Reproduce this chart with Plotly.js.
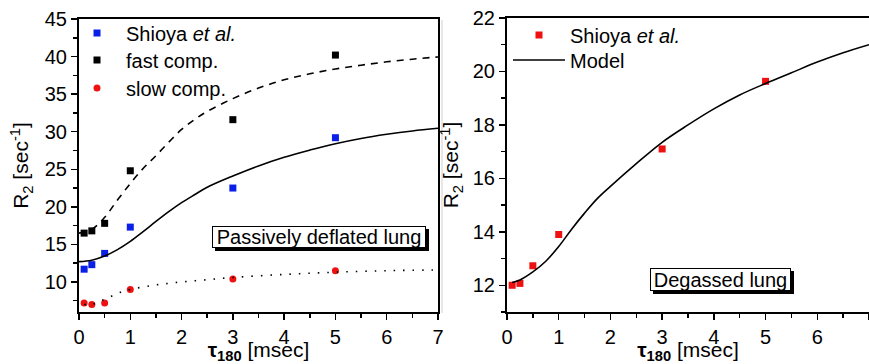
<!DOCTYPE html>
<html><head><meta charset="utf-8">
<script src="https://cdn.plot.ly/plotly-3.0.1.min.js"></script>
<style>html,body{margin:0;padding:0;background:#fff}</style>
</head><body><div id="chart" style="width:869px;height:364px"></div>
<script>
// ---- Left panel: passively deflated lung ----
const tauData = [0.1, 0.25, 0.5, 1, 3, 5];
const shioyaLeft = [11.7, 12.3, 13.8, 17.3, 22.5, 29.2];
const fastComp = [16.5, 16.8, 17.8, 24.8, 31.6, 40.2];
const slowComp = [7.2, 7.0, 7.2, 9.0, 10.4, 11.5];

const curveX = [0, 0.25, 0.5, 0.75, 1, 1.25, 1.5, 1.75, 2, 2.25, 2.5, 3, 3.5, 4, 4.5, 5, 5.5, 6, 6.5, 7];
const modelLeft = [12.7, 12.9, 13.45, 14.3, 15.4, 16.7, 18.05, 19.35, 20.55, 21.6, 22.6, 24.1, 25.45, 26.6, 27.55, 28.4, 29.1, 29.65, 30.1, 30.45];
const fastCurve = [16.5, 17.0, 18.6, 20.9, 23.1, 25.1, 26.8, 28.6, 30.3, 31.6, 32.7, 34.4, 35.8, 36.9, 37.7, 38.35, 38.85, 39.3, 39.65, 39.95];
const slowCurveX = [0.1, 0.25, 0.4, 0.6, 0.8, 1, 1.5, 2, 2.5, 3, 4, 5, 6, 7];
const slowCurve = [7.0, 7.0, 7.4, 8.0, 8.6, 9.0, 9.6, 10.0, 10.3, 10.6, 11.0, 11.3, 11.5, 11.6];

// ---- Right panel: degassed lung ----
const shioyaRight = [12.0, 12.07, 12.73, 13.9, 17.1, 19.63];
const modelRightX = [0.1, 0.25, 0.5, 0.75, 1, 1.25, 1.5, 1.75, 2, 2.5, 3, 3.5, 4, 4.5, 5, 5.5, 6, 6.5, 7];
const modelRight = [12.1, 12.2, 12.5, 12.9, 13.45, 14.1, 14.7, 15.25, 15.7, 16.55, 17.35, 18.0, 18.6, 19.12, 19.55, 19.95, 20.35, 20.7, 21.0];

const FONT = 'Arial, "Liberation Sans", sans-serif';
const LFONT = {family: FONT, size: 20, color: '#000'};

const traces = [
  {x: tauData, y: shioyaLeft, type: 'scatter', mode: 'markers', name: 'Shioya <i>et al.</i>',
   marker: {symbol: 'square', size: 7, color: '#0a1fe8'}, xaxis: 'x', yaxis: 'y', legend: 'legend'},
  {x: tauData, y: fastComp, type: 'scatter', mode: 'markers', name: 'fast comp.',
   marker: {symbol: 'square', size: 7, color: '#000'}, xaxis: 'x', yaxis: 'y', legend: 'legend2'},
  {x: tauData, y: slowComp, type: 'scatter', mode: 'markers', name: 'slow comp.',
   marker: {symbol: 'circle', size: 7, color: '#ee1111'}, xaxis: 'x', yaxis: 'y', legend: 'legend3'},
  {x: curveX, y: modelLeft, type: 'scatter', mode: 'lines', line: {color: '#000', width: 1.6, shape: 'spline'},
   xaxis: 'x', yaxis: 'y', showlegend: false},
  {x: curveX, y: fastCurve, type: 'scatter', mode: 'lines', line: {color: '#000', width: 1.6, dash: '7px,6px', shape: 'spline'},
   xaxis: 'x', yaxis: 'y', showlegend: false},
  {x: slowCurveX, y: slowCurve, type: 'scatter', mode: 'lines', line: {color: '#000', width: 1.6, dash: '1.5px,8px', shape: 'spline'},
   xaxis: 'x', yaxis: 'y', showlegend: false},
  {x: tauData, y: shioyaRight, type: 'scatter', mode: 'markers', name: 'Shioya <i>et al.</i>',
   marker: {symbol: 'square', size: 7, color: '#ee1111'}, xaxis: 'x2', yaxis: 'y2', legend: 'legend4'},
  {x: modelRightX, y: modelRight, type: 'scatter', mode: 'lines', name: 'Model',
   line: {color: '#000', width: 1.6, shape: 'spline'}, xaxis: 'x2', yaxis: 'y2', legend: 'legend5'}
];

const axisCommon = {
  showline: true, linecolor: '#000', linewidth: 2, mirror: true,
  ticks: 'outside', ticklen: 6, tickwidth: 1.5, tickcolor: '#000',
  showgrid: false, zeroline: false, fixedrange: true,
  tickfont: {family: FONT, size: 20, color: '#000'},
  minor: {ticks: 'outside', ticklen: 4, tickwidth: 1.5, tickcolor: '#000', showgrid: false}
};

const H = 364, W = 869;
const xTitle = {text: '<b>τ<sub>180</sub></b> [msec]', font: {family: FONT, size: 21, color: '#000'}, standoff: 3};
const yTitle = {text: 'R<sub>2</sub> [sec<sup>-1</sup>]', font: {family: FONT, size: 21, color: '#000'}, standoff: 10};

function leg(xpx, ypx, iw) {
  return {x: xpx/W, y: (H-ypx)/H, xanchor: 'left', yanchor: 'middle', bgcolor: 'rgba(0,0,0,0)',
    itemwidth: iw, font: LFONT};
}

function box(xpx, ypx, w, h, text) {
  const base = {xref: 'paper', yref: 'paper', x: xpx/W, y: (H-ypx)/H, text: text, showarrow: false,
    font: LFONT, borderwidth: 1, borderpad: 0, width: w, height: h, bordercolor: '#000'};
  return [Object.assign({}, base, {bgcolor: '#000', xshift: 3, yshift: -3}),
          Object.assign({}, base, {bgcolor: '#fff'})];
}

const layout = {
  width: W, height: H,
  margin: {l: 0, r: 0, t: 0, b: 0},
  paper_bgcolor: '#fff', plot_bgcolor: '#fff',
  showlegend: true,
  xaxis: Object.assign({}, axisCommon, {domain: [79/W, 438/W], range: [0, 7], dtick: 1, tick0: 0,
    minor: Object.assign({}, axisCommon.minor, {dtick: 0.5}), anchor: 'y', title: xTitle}),
  yaxis: Object.assign({}, axisCommon, {domain: [(H-312)/H, (H-19)/H], range: [6, 45], tickvals: [10, 15, 20, 25, 30, 35, 40, 45],
    minor: Object.assign({}, axisCommon.minor, {tickvals: [7.5, 12.5, 17.5, 22.5, 27.5, 32.5, 37.5, 42.5]}), anchor: 'x', title: yTitle}),
  xaxis2: Object.assign({}, axisCommon, {domain: [507/W, 1], range: [0, 7], dtick: 1, tick0: 0,
    minor: Object.assign({}, axisCommon.minor, {dtick: 0.5}), anchor: 'y2', title: xTitle}),
  yaxis2: Object.assign({}, axisCommon, {domain: [(H-312)/H, (H-18)/H], range: [11, 22], dtick: 2, tick0: 12,
    minor: Object.assign({}, axisCommon.minor, {dtick: 1}), anchor: 'x2', title: Object.assign({}, yTitle, {standoff: 8})}),
  legend: leg(68, 33, 48),
  legend2: leg(68, 60, 48),
  legend3: leg(68, 88, 48),
  legend4: leg(508, 35, 52),
  legend5: leg(508, 60, 52),
  shapes: [
    {type: 'line', xref: 'paper', yref: 'paper', x0: 442/W, x1: 442/W, y0: (H-313)/H, y1: (H-20)/H,
     line: {color: '#d0d0d0', width: 1}}
  ],
  annotations: [].concat(
    box(319, 236.7, 212, 20, 'Passively deflated lung'),
    box(791, 290.5, 139, 21, 'Degassed lung')
  )
};

Plotly.newPlot('chart', traces, layout, {staticPlot: true, displayModeBar: false});
</script></body></html>
